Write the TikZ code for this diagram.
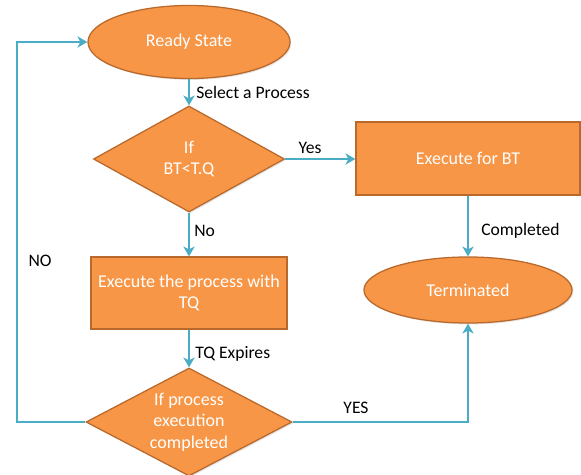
\documentclass[tikz,border=0pt]{standalone}
\usepackage{fontspec}
\setmainfont{Carlito}
\usetikzlibrary{shapes.geometric,arrows.meta,shadows}

\definecolor{boxfill}{HTML}{F79646}
\definecolor{boxline}{HTML}{B9692C}
\definecolor{flowline}{HTML}{4BACC6}

\tikzset{
  shape base/.style={draw=boxline, fill=boxfill, line width=0.9pt, inner sep=0pt,
    drop shadow={opacity=0.2, shadow xshift=1pt, shadow yshift=-1pt}},
  terminal/.style={shape base, ellipse},
  process/.style={shape base, rectangle},
  decision/.style={shape base, diamond},
  inside/.style={text=white, align=center, font=\fontsize{12.8}{15.3}\selectfont},
  note/.style={text=black, font=\fontsize{12.5}{15}\selectfont, inner sep=0pt},
  flow/.style={draw=flowline, line width=1.8pt, -{Stealth[length=7pt,width=8pt,inset=2pt]}}
}

\begin{document}
\begin{tikzpicture}[x=0.025cm, y=-0.025cm]
            \useasboundingbox (0, 0) rectangle (581, 475);

            \node[terminal, minimum width=5.05cm, minimum height=1.825cm] (ready) at (189, 42) {};
            \node[inside] (readytxt) at (ready) {Ready State};

            \node[decision, minimum width=4.775cm, minimum height=2.65cm] (chkBT) at (189, 159) {};
            \node[inside] (chkBTtxt) at (chkBT) {If\\BT<T.Q};

            \node[process, minimum width=5.6cm, minimum height=1.825cm] (runBT) at (468, 158.5) {};
            \node[inside] (runBTtxt) at (runBT) {Execute for BT};

            \node[terminal, minimum width=5.2cm, minimum height=1.65cm] (term) at (468, 290) {};
            \node[inside] (termtxt) at (term) {Terminated};

            \node[process, minimum width=4.9cm, minimum height=1.8cm] (runTQ) at (189, 293) {};
            \node[inside] (runTQtxt) at (runTQ) {Execute the process with\\TQ};

            \node[decision, minimum width=5.15cm, minimum height=2.7cm] (chkDone) at (189, 422) {};
            \node[inside] (chkDonetxt) at (chkDone) {If process\\execution\\completed};

            \coordinate (loop) at (17, 422);

            \draw[flow] (ready) -- (chkBT);
            \draw[flow] (chkBT.east) -- (chkBT.east -| runBT.west);
            \draw[flow] (runBT) -- (term);
            \draw[flow] (chkBT) -- (runTQ);
            \draw[flow] (runTQ) -- (chkDone);
            \draw[flow] (chkDone.west) -- (loop) |- (ready.west);
            \draw[flow] (chkDone.east) -| (term.south);

            \node[note, anchor=west] (selectlbl) at (196, 92) {Select a Process};
            \node[note] (yeslbl) at (310, 148) {Yes};
            \node[note, anchor=west] (nolbl) at (194, 231) {No};
            \node[note, anchor=west] (donelbl) at (481, 231) {Completed};
            \node[note, anchor=west] (expirelbl) at (195, 354) {TQ Expires};
            \node[note] (NOlbl) at (40, 261) {NO};
            \node[note] (YESlbl) at (356, 408) {YES};
        \end{tikzpicture}
\end{document}
